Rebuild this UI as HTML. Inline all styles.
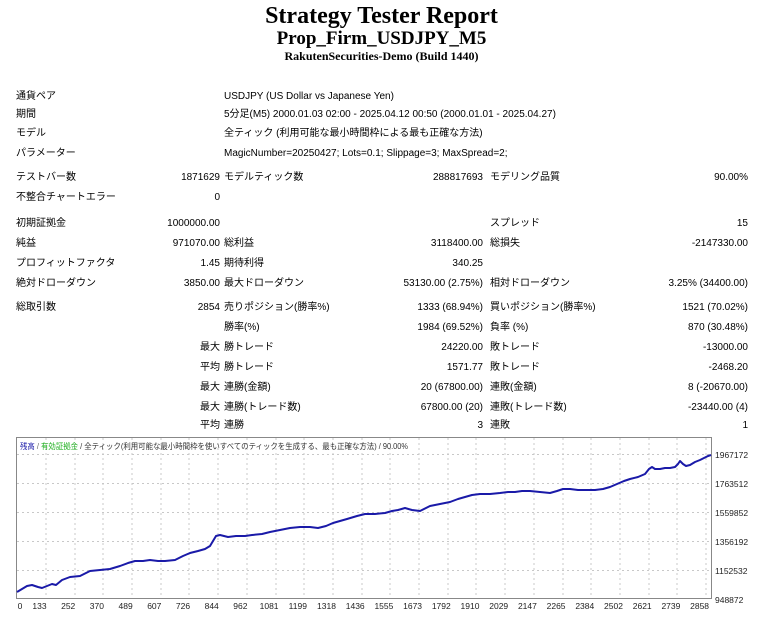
<!DOCTYPE html>
<html><head><meta charset="utf-8"><style>
body{margin:0;width:763px;height:639px;background:#fff;position:relative;overflow:hidden;font-family:"Liberation Sans","Noto Sans CJK JP",sans-serif;font-size:10px;color:#000}
.t{position:absolute;left:0;width:763px;text-align:center;font-family:"Liberation Serif",serif;font-weight:bold;white-space:nowrap}
.L,.R{position:absolute;white-space:nowrap;line-height:12px}
.R{text-align:right}
</style></head><body>
<div class="t" style="top:3px;font-size:24px">Strategy Tester Report</div>
<div class="t" style="top:28px;font-size:19px">Prop_Firm_USDJPY_M5</div>
<div class="t" style="top:49px;font-size:12px">RakutenSecurities-Demo (Build 1440)</div>

<div class="L" style="left:16px;top:91px">通貨ペア</div><div class="L" style="left:224px;top:91px">USDJPY (US Dollar vs Japanese Yen)</div>
<div class="L" style="left:16px;top:109px">期間</div><div class="L" style="left:224px;top:109px">5分足(M5) 2000.01.03 02:00 - 2025.04.12 00:50 (2000.01.01 - 2025.04.27)</div>
<div class="L" style="left:16px;top:128px">モデル</div><div class="L" style="left:224px;top:128px">全ティック (利用可能な最小時間枠による最も正確な方法)</div>
<div class="L" style="left:16px;top:148px">パラメーター</div><div class="L" style="left:224px;top:148px">MagicNumber=20250427; Lots=0.1; Slippage=3; MaxSpread=2;</div>

<div class="L" style="left:16px;top:172px">テストバー数</div><div class="R" style="right:543px;top:172px">1871629</div><div class="L" style="left:224px;top:172px">モデルティック数</div><div class="R" style="right:280px;top:172px">288817693</div><div class="L" style="left:490px;top:172px">モデリング品質</div><div class="R" style="right:15px;top:172px">90.00%</div>
<div class="L" style="left:16px;top:192px">不整合チャートエラー</div><div class="R" style="right:543px;top:192px">0</div>

<div class="L" style="left:16px;top:218px">初期証拠金</div><div class="R" style="right:543px;top:218px">1000000.00</div><div class="L" style="left:490px;top:218px">スプレッド</div><div class="R" style="right:15px;top:218px">15</div>
<div class="L" style="left:16px;top:238px">純益</div><div class="R" style="right:543px;top:238px">971070.00</div><div class="L" style="left:224px;top:238px">総利益</div><div class="R" style="right:280px;top:238px">3118400.00</div><div class="L" style="left:490px;top:238px">総損失</div><div class="R" style="right:15px;top:238px">-2147330.00</div>
<div class="L" style="left:16px;top:258px">プロフィットファクタ</div><div class="R" style="right:543px;top:258px">1.45</div><div class="L" style="left:224px;top:258px">期待利得</div><div class="R" style="right:280px;top:258px">340.25</div>
<div class="L" style="left:16px;top:278px">絶対ドローダウン</div><div class="R" style="right:543px;top:278px">3850.00</div><div class="L" style="left:224px;top:278px">最大ドローダウン</div><div class="R" style="right:280px;top:278px">53130.00 (2.75%)</div><div class="L" style="left:490px;top:278px">相対ドローダウン</div><div class="R" style="right:15px;top:278px">3.25% (34400.00)</div>

<div class="L" style="left:16px;top:302px">総取引数</div><div class="R" style="right:543px;top:302px">2854</div><div class="L" style="left:224px;top:302px">売りポジション(勝率%)</div><div class="R" style="right:280px;top:302px">1333 (68.94%)</div><div class="L" style="left:490px;top:302px">買いポジション(勝率%)</div><div class="R" style="right:15px;top:302px">1521 (70.02%)</div>
<div class="L" style="left:224px;top:322px">勝率(%)</div><div class="R" style="right:280px;top:322px">1984 (69.52%)</div><div class="L" style="left:490px;top:322px">負率 (%)</div><div class="R" style="right:15px;top:322px">870 (30.48%)</div>
<div class="R" style="right:543px;top:342px">最大</div><div class="L" style="left:224px;top:342px">勝トレード</div><div class="R" style="right:280px;top:342px">24220.00</div><div class="L" style="left:490px;top:342px">敗トレード</div><div class="R" style="right:15px;top:342px">-13000.00</div>
<div class="R" style="right:543px;top:362px">平均</div><div class="L" style="left:224px;top:362px">勝トレード</div><div class="R" style="right:280px;top:362px">1571.77</div><div class="L" style="left:490px;top:362px">敗トレード</div><div class="R" style="right:15px;top:362px">-2468.20</div>
<div class="R" style="right:543px;top:382px">最大</div><div class="L" style="left:224px;top:382px">連勝(金額)</div><div class="R" style="right:280px;top:382px">20 (67800.00)</div><div class="L" style="left:490px;top:382px">連敗(金額)</div><div class="R" style="right:15px;top:382px">8 (-20670.00)</div>
<div class="R" style="right:543px;top:402px">最大</div><div class="L" style="left:224px;top:402px">連勝(トレード数)</div><div class="R" style="right:280px;top:402px">67800.00 (20)</div><div class="L" style="left:490px;top:402px">連敗(トレード数)</div><div class="R" style="right:15px;top:402px">-23440.00 (4)</div>
<div class="R" style="right:543px;top:420px">平均</div><div class="L" style="left:224px;top:420px">連勝</div><div class="R" style="right:280px;top:420px">3</div><div class="L" style="left:490px;top:420px">連敗</div><div class="R" style="right:15px;top:420px">1</div>

<svg style="position:absolute;left:0;top:0" width="763" height="639" font-family="Liberation Sans, Noto Sans CJK JP, sans-serif">
<g stroke="#c8c8c8" stroke-dasharray="2,3" stroke-width="1">
<path d="M17 454.5H712M17 483.5H712M17 512.5H712M17 541.5H712M17 570.5H712"/>
<line x1="46" y1="438" x2="46" y2="598"/><line x1="75" y1="438" x2="75" y2="598"/><line x1="103" y1="438" x2="103" y2="598"/><line x1="132" y1="438" x2="132" y2="598"/><line x1="161" y1="438" x2="161" y2="598"/><line x1="189" y1="438" x2="189" y2="598"/><line x1="218" y1="438" x2="218" y2="598"/><line x1="247" y1="438" x2="247" y2="598"/><line x1="276" y1="438" x2="276" y2="598"/><line x1="304" y1="438" x2="304" y2="598"/><line x1="333" y1="438" x2="333" y2="598"/><line x1="362" y1="438" x2="362" y2="598"/><line x1="390" y1="438" x2="390" y2="598"/><line x1="419" y1="438" x2="419" y2="598"/><line x1="448" y1="438" x2="448" y2="598"/><line x1="476" y1="438" x2="476" y2="598"/><line x1="505" y1="438" x2="505" y2="598"/><line x1="534" y1="438" x2="534" y2="598"/><line x1="563" y1="438" x2="563" y2="598"/><line x1="591" y1="438" x2="591" y2="598"/><line x1="620" y1="438" x2="620" y2="598"/><line x1="649" y1="438" x2="649" y2="598"/><line x1="677" y1="438" x2="677" y2="598"/><line x1="706" y1="438" x2="706" y2="598"/>
</g>
<rect x="16.5" y="437.5" width="695" height="161" fill="none" stroke="#888"/>
<text x="20" y="449" font-size="8" textLength="388" lengthAdjust="spacingAndGlyphs"><tspan fill="#1a1aa8">残高</tspan><tspan fill="#666"> / </tspan><tspan fill="#20b020">有効証拠金</tspan><tspan fill="#333"> / 全ティック(利用可能な最小時間枠を使いすべてのティックを生成する、最も正確な方法) / 90.00%</tspan></text>
<polyline fill="none" stroke="#1a1aa8" stroke-width="2" stroke-linejoin="round" points="17,592 22,589 27,586 32,585 38,587 42,588 47,586 52,584 56,585 62,580 70,577 80,576 90,571 100,570 110,569 120,566 128,563 135,561 143,561 150,560 158,561 165,561 175,560 183,556 190,553 198,551 205,549 210,546 213,541 216,536 220,535 228,537 236,536 245,536 252,535 262,534 270,532 280,530 290,528 300,527 310,527 318,528 326,526 333,523 340,521 347,519 357,516 365,514 375,514 385,513 392,511 398,510 405,508 412,510 420,511 430,506 440,504 450,502 458,499 465,497 472,495 480,494 490,494 500,493 508,492 515,492 522,491 530,491 540,492 550,493 557,491 563,489 570,489 578,490 586,490 595,490 603,489 610,487 617,484 624,481 630,479 638,477 645,474 649,469 652,467 655,469 660,469 665,468 670,468 675,467 678,464 680,461 683,464 686,466 690,465 695,462 700,460 704,458 708,456 711,455"/>
<g font-size="8.5" fill="#222">
<text x="715" y="458">1967172</text><text x="715" y="487">1763512</text><text x="715" y="516">1559852</text><text x="715" y="545">1356192</text><text x="715" y="574">1152532</text><text x="715" y="603">948872</text>
</g>
<g font-size="8.5" fill="#222" text-anchor="middle">
<text x="20" y="609">0</text><text x="39.5" y="609">133</text><text x="68.2" y="609">252</text><text x="96.9" y="609">370</text><text x="125.6" y="609">489</text><text x="154.3" y="609">607</text><text x="183" y="609">726</text><text x="211.7" y="609">844</text><text x="240.4" y="609">962</text><text x="269.1" y="609">1081</text><text x="297.8" y="609">1199</text><text x="326.5" y="609">1318</text><text x="355.2" y="609">1436</text><text x="383.9" y="609">1555</text><text x="412.6" y="609">1673</text><text x="441.3" y="609">1792</text><text x="470" y="609">1910</text><text x="498.7" y="609">2029</text><text x="527.4" y="609">2147</text><text x="556.1" y="609">2265</text><text x="584.8" y="609">2384</text><text x="613.5" y="609">2502</text><text x="642.2" y="609">2621</text><text x="670.9" y="609">2739</text><text x="699.6" y="609">2858</text>
</g>
</svg>
</body></html>
